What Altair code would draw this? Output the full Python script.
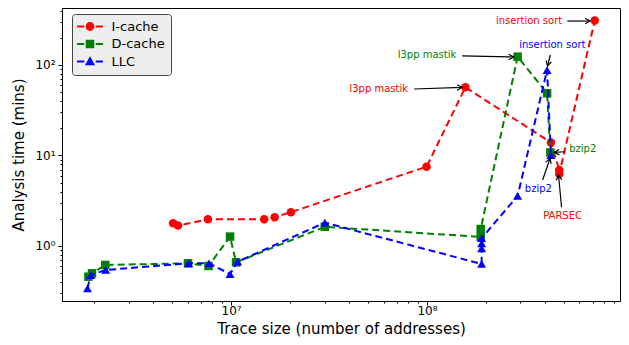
import math
import altair as alt
import pandas as pd

# ---------------- data ----------------
series_names = ["I-cache", "D-cache", "LLC"]
series_colors = ["#ff0000", "#008000", "#0000ff"]
series_shapes = ["circle", "square", "triangle-up"]

icache_x = [5.06e6, 5.36e6, 7.62e6, 1.476e7, 1.67e7, 2.02e7, 9.95e7, 1.57e8, 4.29e8, 4.73e8, 4.73e8, 7.18e8]
icache_y = [1.78, 1.68, 1.97, 1.97, 2.08, 2.36, 7.52, 56.7, 13.9, 6.92, 6.25, 310]

dcache_x = [1.87e6, 1.95e6, 2.28e6, 6.03e6, 7.67e6, 9.88e6, 1.06e7, 3.01e7, 1.88e8, 1.88e8, 2.90e8, 4.10e8, 4.26e8]
dcache_y = [0.458, 0.499, 0.617, 0.644, 0.601, 1.27, 0.66, 1.63, 1.26, 1.54, 123.6, 48.7, 10.8]

llc_x = [1.85e6, 1.92e6, 2.29e6, 6.07e6, 7.71e6, 9.88e6, 1.08e7, 3.01e7, 1.90e8, 1.90e8, 1.90e8, 1.90e8, 2.90e8, 4.10e8, 4.29e8]
llc_y = [0.341, 0.478, 0.543, 0.644, 0.644, 0.490, 0.671, 1.81, 0.633, 0.944, 1.07, 1.22, 3.57, 88, 10.1]

# annotations: label, colour, text anchor, text alignment, arrow tail, arrow tip
ann_text = ["insertion sort", "insertion sort", "l3pp mastik", "l3pp mastik", "bzip2", "bzip2", "PARSEC"]
ann_color = ["#ff0000", "#0000ff", "#008000", "#ff0000", "#008000", "#0000ff", "#ff0000"]
ann_align = ["right", "center", "center", "center", "left", "center", "center"]
ann_tx = [4.90e8, 4.36e8, 1.00e8, 5.67e7, 5.32e8, 3.70e8, 4.92e8]
ann_ty = [306, 166, 129, 54.3, 11.7, 4.26, 2.15]
ann_tail_x = [5.20e8, 4.26e8, 1.51e8, 8.59e7, 5.06e8, 3.89e8, 4.86e8]
ann_tail_y = [306, 129, 126, 54.3, 11.0, 5.36, 2.68]
ann_tip_x = [6.80e8, 4.12e8, 2.77e8, 1.51e8, 4.46e8, 4.25e8, 4.69e8]
ann_tip_y = [306, 97.5, 122.5, 56.7, 10.8, 9.31, 6.09]

x_major = [1e7, 1e8]
x_minor = [m * 10 ** e for e in (6, 7, 8) for m in range(2, 10)]
y_major = [1, 10, 100]
y_minor = [0.3, 0.4, 0.5, 0.6, 0.7, 0.8, 0.9] + [m * 10 ** e for e in (0, 1) for m in range(2, 10)] + [200, 300, 400]

x_domain = [1.371e6, 9.66e8]
y_domain = [0.2467, 426.4]

W, H = 558, 293

# ---------------- build ----------------
x_px_per_dec = W / (math.log10(x_domain[1]) - math.log10(x_domain[0]))
y_px_per_dec = H / (math.log10(y_domain[1]) - math.log10(y_domain[0]))

x_scale = alt.Scale(type="log", domain=x_domain, nice=False)
y_scale = alt.Scale(type="log", domain=y_domain, nice=False)

x_major_test = "datum.value == 10000000 || datum.value == 100000000"
y_major_test = "datum.value == 1 || datum.value == 10 || datum.value == 100"

x_axis = alt.Axis(
    values=sorted(x_major + x_minor),
    labelExpr="datum.value == 10000000 ? '10\u2077' : (datum.value == 100000000 ? '10\u2078' : '')",
    tickSize={"condition": {"test": x_major_test, "value": 4}, "value": 2},
    labelFontSize={"condition": {"test": x_major_test, "value": 12}, "value": 0},
    grid=False, labelOverlap=False, labelFlush=False,
    title="Trace size (number of addresses)",
)
y_axis = alt.Axis(
    values=sorted(y_major + y_minor),
    labelExpr="datum.value == 1 ? '10\u2070' : (datum.value == 10 ? '10\u00b9' : (datum.value == 100 ? '10\u00b2' : ''))",
    tickSize={"condition": {"test": y_major_test, "value": 4}, "value": 2},
    labelFontSize={"condition": {"test": y_major_test, "value": 12}, "value": 0},
    grid=False, labelOverlap=False, labelFlush=False,
    title="Analysis time (mins)",
)

X = alt.X("x:Q", scale=x_scale, axis=x_axis)
Y = alt.Y("y:Q", scale=y_scale, axis=y_axis)

layers = []
for name, xs, ys, col, shp in zip(
    series_names, [icache_x, dcache_x, llc_x], [icache_y, dcache_y, llc_y], series_colors, series_shapes
):
    d = pd.DataFrame({"x": xs, "y": ys, "idx": list(range(len(xs))), "series": name})
    base = alt.Chart(d)
    layers.append(
        base.mark_line(strokeDash=[7, 4], strokeWidth=2, color=col).encode(x=X, y=Y, order="idx:Q")
    )
    layers.append(
        base.mark_point(filled=True, opacity=1, size=72 if shp != "triangle-up" else 80, shape=shp, color=col).encode(x=X, y=Y)
    )

# legend layer (symbols outside the domain, clipped, only used for the legend)
legend_paths = [
    "M-2.95,-0.23H-1.3V0.23H-2.95Z M1.3,-0.23H2.95V0.23H1.3Z M1,0 A1,1 0 1,1 -1,0 A1,1 0 1,1 1,0 Z",
    "M-2.95,-0.23H-1.3V0.23H-2.95Z M1.3,-0.23H2.95V0.23H1.3Z M-0.97,-0.97H0.97V0.97H-0.97Z",
    "M-2.95,-0.23H-1.3V0.23H-2.95Z M1.3,-0.23H2.95V0.23H1.3Z M0,-1.2L1.15,0.85H-1.15Z",
]
leg_df = pd.DataFrame({"series": series_names, "x": [1e3] * 3, "y": [1] * 3})
legend_kw = dict(
    title=None, orient="none", legendX=10, legendY=6,
    fillColor="#eeeeee", strokeColor="#444444", cornerRadius=3, padding=6,
    symbolSize=77, symbolOffset=5.5, labelOffset=15, rowPadding=3.5,
    labelFontSize=13, labelFont="DejaVu Sans", labelColor="black",
)
legend_layer = alt.Chart(leg_df).mark_point(filled=True, size=77, clip=True, opacity=1).encode(
    x=X, y=Y,
    color=alt.Color("series:N", scale=alt.Scale(domain=series_names, range=series_colors), legend=alt.Legend(**legend_kw)),
    shape=alt.Shape("series:N", scale=alt.Scale(domain=series_names, range=legend_paths), legend=alt.Legend(**legend_kw)),
)
layers.append(legend_layer)

# annotations
angles = []
for tx, ty, hx, hy in zip(ann_tail_x, ann_tail_y, ann_tip_x, ann_tip_y):
    dx = (math.log10(hx) - math.log10(tx)) * x_px_per_dec
    dy = -(math.log10(hy) - math.log10(ty)) * y_px_per_dec
    angles.append(math.degrees(math.atan2(dy, dx)) % 360)

ann_df = pd.DataFrame({
    "text": ann_text, "color": ann_color, "align": ann_align,
    "tx": ann_tx, "ty": ann_ty,
    "x": ann_tail_x, "y": ann_tail_y, "x2": ann_tip_x, "y2": ann_tip_y,
    "angle": angles,
})
ann = alt.Chart(ann_df)
layers.append(ann.mark_rule(color="black", strokeWidth=1.2).encode(x=X, y=Y, x2="x2:Q", y2="y2:Q"))
layers.append(
    ann.mark_point(shape="M-1,-0.55L0,0L-1,0.55", filled=False, size=100, color="black", strokeWidth=1.2, opacity=1)
    .encode(x=alt.X("x2:Q", scale=x_scale, axis=x_axis), y=alt.Y("y2:Q", scale=y_scale, axis=y_axis),
            angle=alt.Angle("angle:Q", scale=None))
)
for al in ["left", "center", "right"]:
    layers.append(
        ann.transform_filter(alt.datum.align == al)
        .mark_text(align=al, baseline="middle", fontSize=10, font="DejaVu Sans")
        .encode(x=alt.X("tx:Q", scale=x_scale, axis=x_axis), y=alt.Y("ty:Q", scale=y_scale, axis=y_axis),
                text="text:N", color=alt.Color("color:N", scale=None))
    )

chart = (
    alt.layer(*layers)
    .properties(
        width=W, height=H,
        autosize=alt.AutoSizeParams(type="none"),
        padding={"left": 54, "top": 0, "right": 1, "bottom": 36},
        background="white",
    )
    .configure_view(stroke="black", strokeWidth=1)
    .configure_axis(
        domainColor="black", tickColor="black", labelColor="black", titleColor="black",
        labelFont="DejaVu Sans", titleFont="DejaVu Sans", titleFontSize=15,
        titleFontWeight="normal", tickWidth=1,
    )
    .configure_axisX(labelBaseline="alphabetic", labelPadding=9, titleY=32, titleBaseline="alphabetic")
    .configure_axisY(titlePadding=8, labelPadding=3)
)

chart.save("out.html", embed_options={"renderer": "svg", "actions": False})
